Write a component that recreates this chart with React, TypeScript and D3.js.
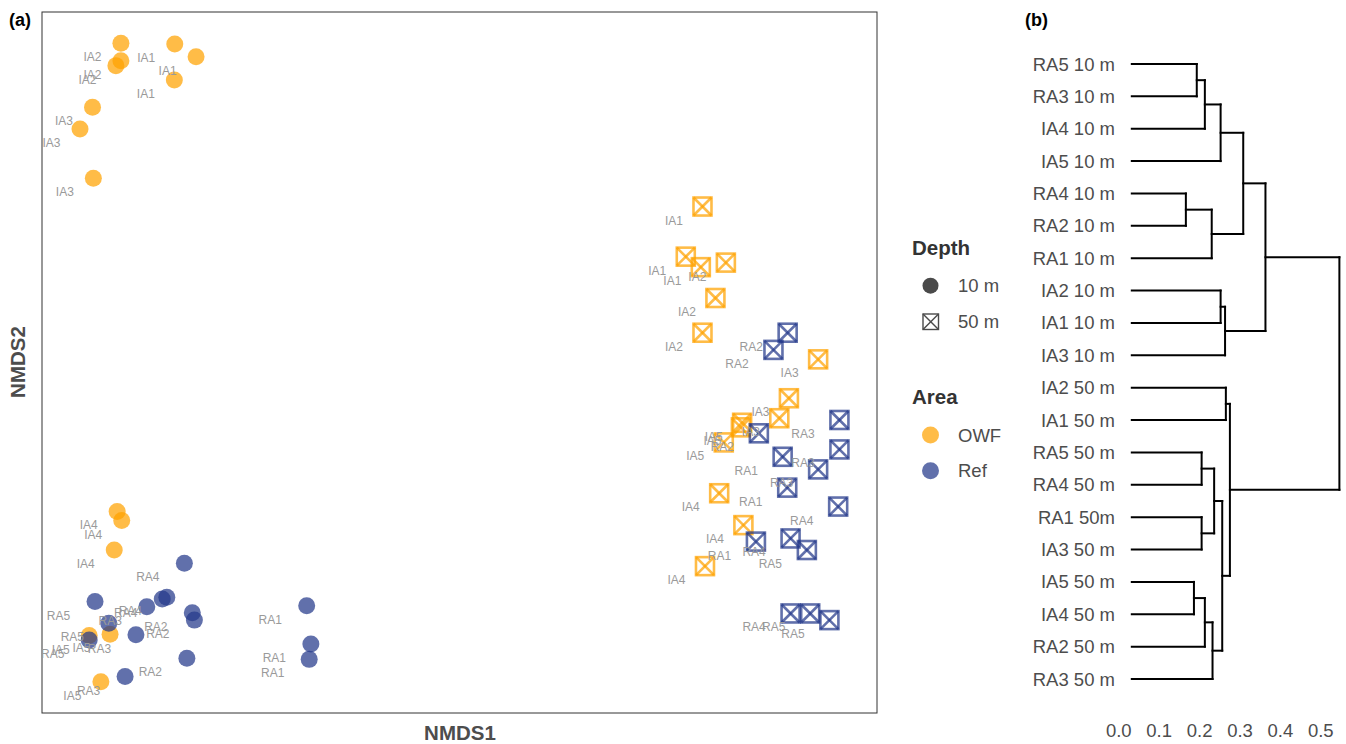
import React from 'react';
import * as d3 from 'd3';

// NMDS scores: [site, NMDS1, NMDS2]
const owf10m: [string, number, number][] = [
  ['IA1', -0.682, 0.909], ['IA1', -0.631, 0.872], ['IA1', -0.683, 0.806],
  ['IA2', -0.811, 0.911], ['IA2', -0.811, 0.861], ['IA2', -0.823, 0.847],
  ['IA3', -0.879, 0.728], ['IA3', -0.909, 0.666], ['IA3', -0.877, 0.526],
  ['IA4', -0.820, -0.425], ['IA4', -0.809, -0.451], ['IA4', -0.827, -0.535],
  ['IA5', -0.887, -0.779], ['IA5', -0.837, -0.775], ['IA5', -0.859, -0.911],
];
const ref10m: [string, number, number][] = [
  ['RA1', -0.366, -0.694], ['RA1', -0.356, -0.803], ['RA1', -0.360, -0.847],
  ['RA2', -0.640, -0.714], ['RA2', -0.635, -0.735], ['RA2', -0.653, -0.844],
  ['RA3', -0.749, -0.697], ['RA3', -0.775, -0.777], ['RA3', -0.801, -0.896],
  ['RA4', -0.659, -0.573], ['RA4', -0.712, -0.675], ['RA4', -0.701, -0.670],
  ['RA5', -0.873, -0.682], ['RA5', -0.840, -0.744], ['RA5', -0.887, -0.792],
];
const owf50m: [string, number, number][] = [
  ['IA1', 0.582, 0.445], ['IA1', 0.542, 0.302], ['IA1', 0.578, 0.272],
  ['IA2', 0.638, 0.285], ['IA2', 0.613, 0.184], ['IA2', 0.582, 0.085],
  ['IA3', 0.859, 0.009], ['IA3', 0.789, -0.102], ['IA3', 0.766, -0.159],
  ['IA4', 0.622, -0.373], ['IA4', 0.680, -0.464], ['IA4', 0.588, -0.581],
  ['IA5', 0.677, -0.172], ['IA5', 0.674, -0.185], ['IA5', 0.633, -0.228],
];
const ref50m: [string, number, number][] = [
  ['RA1', 0.774, -0.269], ['RA1', 0.785, -0.357], ['RA1', 0.710, -0.511],
  ['RA2', 0.786, 0.085], ['RA2', 0.752, 0.036], ['RA2', 0.717, -0.202],
  ['RA3', 0.910, -0.164], ['RA3', 0.910, -0.248], ['RA3', 0.859, -0.305],
  ['RA4', 0.907, -0.411], ['RA4', 0.793, -0.502], ['RA4', 0.793, -0.716],
  ['RA5', 0.832, -0.535], ['RA5', 0.840, -0.716], ['RA5', 0.886, -0.735],
];

// Dendrogram
const leafLabels = [
  'RA5 10 m', 'RA3 10 m', 'IA4 10 m', 'IA5 10 m', 'RA4 10 m', 'RA2 10 m', 'RA1 10 m',
  'IA2 10 m', 'IA1 10 m', 'IA3 10 m', 'IA2 50 m', 'IA1 50 m', 'RA5 50 m', 'RA4 50 m',
  'RA1 50m', 'IA3 50 m', 'IA5 50 m', 'IA4 50 m', 'RA2 50 m', 'RA3 50 m',
];
// merges: [left, right, height]; "mN" refers to N-th merge
const merges: [string, string, number][] = [
  ['RA5 10 m', 'RA3 10 m', 0.193],
  ['m0', 'IA4 10 m', 0.213],
  ['m1', 'IA5 10 m', 0.252],
  ['RA4 10 m', 'RA2 10 m', 0.166],
  ['m3', 'RA1 10 m', 0.230],
  ['m2', 'm4', 0.308],
  ['IA2 10 m', 'IA1 10 m', 0.252],
  ['m6', 'IA3 10 m', 0.263],
  ['m5', 'm7', 0.363],
  ['IA2 50 m', 'IA1 50 m', 0.265],
  ['RA5 50 m', 'RA4 50 m', 0.205],
  ['RA1 50m', 'IA3 50 m', 0.205],
  ['m10', 'm11', 0.236],
  ['IA5 50 m', 'IA4 50 m', 0.186],
  ['m13', 'RA2 50 m', 0.213],
  ['m14', 'RA3 50 m', 0.232],
  ['m12', 'm15', 0.256],
  ['m9', 'm16', 0.275],
  ['m8', 'm17', 0.546],
];
const heightTicks = [0.0, 0.1, 0.2, 0.3, 0.4, 0.5];

const ORANGE = '#FFA200';
const BLUE = '#24398B';
const FONT = "'Liberation Sans', Arial, Helvetica, sans-serif";

export default function App() {
  const x = d3.scaleLinear().domain([-1, 1]).range([42, 877]);
  const y = d3.scaleLinear().domain([-1, 1]).range([713, 12]);

  const hx = d3.scaleLinear().domain([0, 0.5]).range([1118.8, 1320.8]);
  const leafStart = hx(0) + 13;
  const ly = d3.scalePoint<string>().domain(leafLabels).range([64, 679]);

  const nodePos: Record<string, { x: number; y: number }> = {};
  leafLabels.forEach((l) => (nodePos[l] = { x: leafStart, y: ly(l) as number }));
  const segs: { x1: number; y1: number; x2: number; y2: number }[] = [];
  merges.forEach(([a, b, h], i) => {
    const pa = nodePos[a];
    const pb = nodePos[b];
    const mx = hx(h);
    segs.push({ x1: pa.x, y1: pa.y, x2: mx, y2: pa.y });
    segs.push({ x1: pb.x, y1: pb.y, x2: mx, y2: pb.y });
    segs.push({ x1: mx, y1: pa.y, x2: mx, y2: pb.y });
    nodePos['m' + i] = { x: mx, y: (pa.y + pb.y) / 2 };
  });

  const r = 8.5;
  const s = 9;

  const circles = (data: [string, number, number][], color: string, key: string) =>
    data.map((d, i) => (
      <circle key={key + i} cx={x(d[1])} cy={y(d[2])} r={r} fill={color} fillOpacity={0.72} />
    ));
  const squares = (data: [string, number, number][], color: string, key: string) =>
    data.map((d, i) => {
      const cx = x(d[1]);
      const cy = y(d[2]);
      return (
        <g key={key + i} stroke={color} strokeOpacity={0.72} strokeWidth={2.6} fill="none">
          <rect x={cx - s} y={cy - s} width={2 * s} height={2 * s} />
          <line x1={cx - s} y1={cy - s} x2={cx + s} y2={cy + s} />
          <line x1={cx - s} y1={cy + s} x2={cx + s} y2={cy - s} />
        </g>
      );
    });
  const labels = (data: [string, number, number][], key: string) =>
    data.map((d, i) => (
      <text
        key={key + i}
        x={x(d[1]) + (d[0].startsWith('IA') ? -28.5 : -36.5)}
        y={y(d[2]) + 14}
        textAnchor="middle"
        dominantBaseline="central"
        fontSize={12}
        fill="#9a9a9a"
      >
        {d[0]}
      </text>
    ));

  return (
    <svg
      width={1346}
      height={744}
      style={{ position: 'absolute', left: 0, top: 0, background: '#fff' }}
      fontFamily={FONT}
    >
      {/* Panel a */}
      <text x={9} y={26} fontSize={18} fontWeight="bold" fill="#000">(a)</text>
      <rect x={42} y={12} width={835} height={701} fill="none" stroke="#333" strokeWidth={1} />
      {circles(owf10m, ORANGE, 'oc')}
      {squares(owf50m, ORANGE, 'os')}
      {circles(ref10m, BLUE, 'bc')}
      {squares(ref50m, BLUE, 'bs')}
      {labels(owf10m, 'l1')}
      {labels(owf50m, 'l2')}
      {labels(ref10m, 'l3')}
      {labels(ref50m, 'l4')}
      <text x={460} y={740} textAnchor="middle" fontSize={20.5} fontWeight="bold" fill="#4d4d4d">
        NMDS1
      </text>
      <text
        transform="translate(25,362) rotate(-90)"
        textAnchor="middle"
        fontSize={20.5}
        fontWeight="bold"
        fill="#4d4d4d"
      >
        NMDS2
      </text>

      {/* Legend */}
      <text x={912} y={255} fontSize={20.5} fontWeight="bold" fill="#333">Depth</text>
      <circle cx={930.5} cy={285.7} r={8} fill="#4a4a4a" />
      <text x={958} y={285.7} dominantBaseline="central" fontSize={18.5} fill="#4d4d4d">10 m</text>
      <g stroke="#4a4a4a" strokeWidth={1.4} fill="none">
        <rect x={923} y={314} width={15.5} height={15.5} />
        <line x1={923} y1={314} x2={938.5} y2={329.5} />
        <line x1={923} y1={329.5} x2={938.5} y2={314} />
      </g>
      <text x={958} y={321.7} dominantBaseline="central" fontSize={18.5} fill="#4d4d4d">50 m</text>
      <text x={912} y={404} fontSize={20.5} fontWeight="bold" fill="#333">Area</text>
      <circle cx={930.5} cy={435} r={8.5} fill={ORANGE} fillOpacity={0.72} />
      <text x={958} y={435} dominantBaseline="central" fontSize={18.5} fill="#4d4d4d">OWF</text>
      <circle cx={930.5} cy={470.7} r={8.5} fill={BLUE} fillOpacity={0.72} />
      <text x={958} y={470.7} dominantBaseline="central" fontSize={18.5} fill="#4d4d4d">Ref</text>

      {/* Panel b */}
      <text x={1025} y={26} fontSize={18} fontWeight="bold" fill="#000">(b)</text>
      {leafLabels.map((l) => (
        <text
          key={l}
          x={1115}
          y={ly(l) as number}
          textAnchor="end"
          dominantBaseline="central"
          fontSize={18.5}
          fill="#4d4d4d"
        >
          {l}
        </text>
      ))}
      <g stroke="#000" strokeWidth={2} strokeLinecap="square">
        {segs.map((sg, i) => (
          <line key={i} x1={sg.x1} y1={sg.y1} x2={sg.x2} y2={sg.y2} />
        ))}
      </g>
      {heightTicks.map((t) => (
        <text
          key={t}
          x={hx(t)}
          y={730.5}
          textAnchor="middle"
          dominantBaseline="central"
          fontSize={18.5}
          fill="#4d4d4d"
        >
          {t.toFixed(1)}
        </text>
      ))}
    </svg>
  );
}
